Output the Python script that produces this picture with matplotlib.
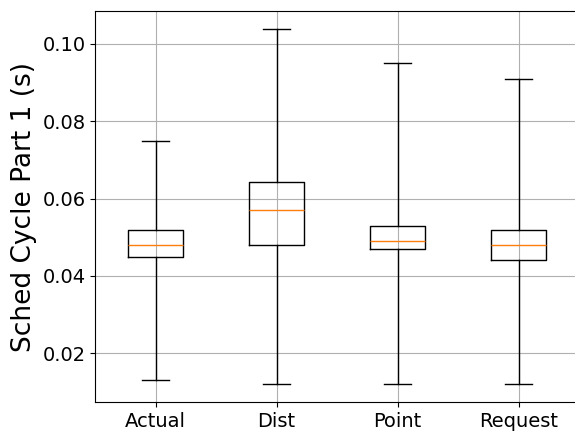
import matplotlib
matplotlib.use("Agg")
import matplotlib.pyplot as plt

# values (whiskers span min..max)
labels = ["Actual", "Dist", "Point", "Request"]
mins = [0.0131, 0.0120, 0.0120, 0.0120]
q1s = [0.0450, 0.0480, 0.0470, 0.0440]
medians = [0.0480, 0.0570, 0.0491, 0.0480]
q3s = [0.0520, 0.0642, 0.0530, 0.0520]
maxs = [0.0750, 0.1039, 0.0950, 0.0909]

stats = []
for lab, lo, q1, med, q3, hi in zip(labels, mins, q1s, medians, q3s, maxs):
    stats.append({"label": lab, "whislo": lo, "q1": q1, "med": med,
                  "q3": q3, "whishi": hi, "fliers": []})

fig = plt.figure(figsize=(5.75, 4.34), dpi=100)
ax = fig.add_axes([95.2 / 575, 1 - 402 / 434, (579 - 95.2) / 575, (402 - 11) / 434])
ax.bxp(stats, showfliers=False)
ax.grid(True)
ax.set_ylabel("Sched Cycle Part 1 (s)", fontsize=19)
ax.tick_params(labelsize=14)

fig.savefig("out.png", dpi=100)
